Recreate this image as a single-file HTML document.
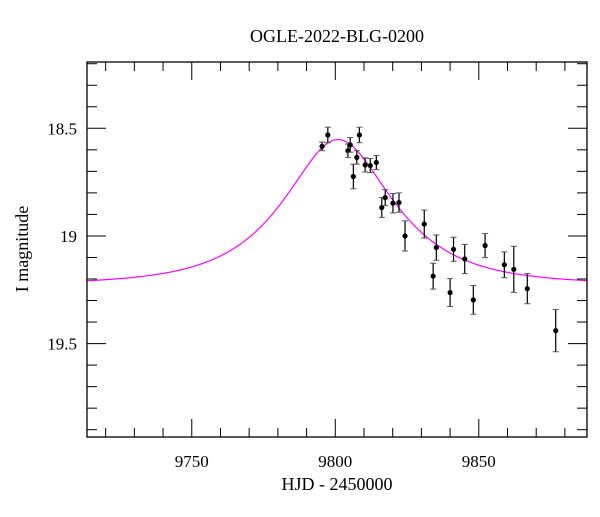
<!DOCTYPE html>
<html><head><meta charset="utf-8"><style>
body{margin:0;background:#fff}
svg text{font-family:"Liberation Serif",serif;fill:#000}
</style></head><body>
<svg id="chart" width="600" height="512" xmlns="http://www.w3.org/2000/svg">
<text x="337" y="42" font-size="18" text-anchor="middle">OGLE-2022-BLG-0200</text>
<text x="337" y="490" font-size="18" text-anchor="middle">HJD - 2450000</text>
<text x="28" y="249" font-size="18" text-anchor="middle" transform="rotate(-90 28 249)">I magnitude</text>
<g id="ticks"></g>
<g id="curve"></g>
<g id="pts"></g>
<rect x="87" y="62" width="500" height="375" fill="none" stroke="#000" stroke-width="1.3"/>
</svg>
<script>
const obsT=[9795.4,9797.4,9804.4,9805.2,9806.3,9807.5,9808.4,9810.4,9812.2,9814.3,9816.2,9817.4,9820.1,9822.2,9824.3,9831.0,9834.1,9835.2,9840.0,9841.2,9845.1,9848.1,9852.2,9858.9,9862.2,9866.9,9876.8];
const obsMag=[18.584,18.531,18.604,18.577,18.724,18.635,18.531,18.670,18.673,18.659,18.868,18.822,18.848,18.845,19.0,18.945,19.187,19.054,19.263,19.062,19.107,19.297,19.045,19.134,19.155,19.245,19.440];
const obsErr=[0.02,0.036,0.031,0.034,0.057,0.031,0.036,0.033,0.033,0.033,0.046,0.037,0.045,0.045,0.07,0.065,0.06,0.059,0.065,0.056,0.068,0.067,0.056,0.06,0.107,0.07,0.098];
const modelT0=9801, modelTE=29.6, modelU0=0.61, modelBase=19.226;
const xTicks=[9750,9800,9850];
const yTicks=[18.5,19,19.5];
const NS="http://www.w3.org/2000/svg";
const L=87,R=587,T=62,B=437;
const xMin=9713.5,xMax=9887.7,yMin=18.192,yMax=19.934;
const X=v=>L+(v-xMin)/(xMax-xMin)*(R-L);
const Y=v=>T+(v-yMin)/(yMax-yMin)*(B-T);
function mk(tag,attrs,parent){const e=document.createElementNS(NS,tag);for(const k in attrs)e.setAttribute(k,attrs[k]);parent.appendChild(e);return e;}
const tg=document.getElementById('ticks');
for(let v=9720;v<=9880;v+=10){
  const major=v%50===0,len=major?18:9,x=X(v);
  const t1=mk('line',{x1:x,x2:x,y1:B,y2:B-len,stroke:'#000','stroke-width':1},tg);
  
  
  const t2=mk('line',{x1:x,x2:x,y1:T,y2:T+len,stroke:'#000','stroke-width':1},tg);
  
  
}
xTicks.forEach(v=>{const t=mk('text',{x:X(v),y:B+30,'font-size':17,'text-anchor':'middle'},tg);t.textContent=v;
  
  });
for(let i=19;i<=59;i++){
  const m=18.2+(i-19)*0.1; if(m>yMax)break;
  const major=Math.abs(m*2-Math.round(m*2))<1e-6,len=major?19:10,y=Y(m);
  const t1=mk('line',{x1:L,x2:L+len,y1:y,y2:y,stroke:'#000','stroke-width':1},tg);
  
  
  const t2=mk('line',{x1:R,x2:R-len,y1:y,y2:y,stroke:'#000','stroke-width':1},tg);
  
  
}
yTicks.forEach(v=>{const t=mk('text',{x:L-10,y:Y(v)+6,'font-size':17,'text-anchor':'end'},tg);t.textContent=String(v);
  
  });
let d='';
for(let px=L;px<=R;px+=1){
  const t=xMin+(px-L)/(R-L)*(xMax-xMin);
  const tau=(t-modelT0)/modelTE,u=Math.sqrt(tau*tau+modelU0*modelU0);
  const A=(u*u+2)/(u*Math.sqrt(u*u+4));
  const m=modelBase-2.5*Math.log10(A);
  d+=(px===L?'M':'L')+px.toFixed(1)+','+Y(m).toFixed(2);
}
const cp=mk('path',{d:d,fill:'none',stroke:'#ff00ff','stroke-width':1.2},document.getElementById('curve'));


const pg=document.getElementById('pts');
obsT.forEach((t,i)=>{
  const x=X(t),y=Y(obsMag[i]),y1=Y(obsMag[i]-obsErr[i]),y2=Y(obsMag[i]+obsErr[i]);
  const g=mk('g',{},pg);
  
  
  mk('line',{x1:x,x2:x,y1:y1,y2:y2,stroke:'#000','stroke-width':1.2},g);
  mk('line',{x1:x-3,x2:x+3,y1:y1,y2:y1,stroke:'#555','stroke-width':1},g);
  mk('line',{x1:x-3,x2:x+3,y1:y2,y2:y2,stroke:'#555','stroke-width':1},g);
  mk('circle',{cx:x,cy:y,r:2.6,fill:'#000'},g);
});
</script>
</body></html>
